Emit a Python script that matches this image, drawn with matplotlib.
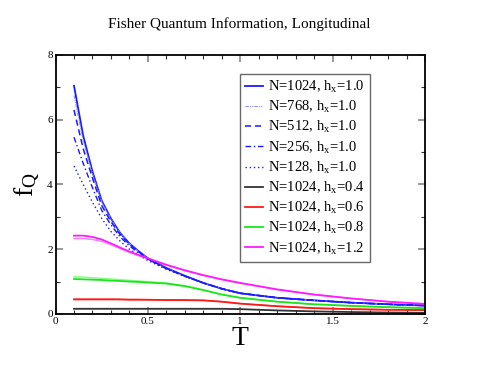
import numpy as np
import matplotlib
matplotlib.use("Agg")
import matplotlib.pyplot as plt
from matplotlib.ticker import MultipleLocator

plt.rcParams['font.family'] = ['Liberation Serif', 'DejaVu Serif']
plt.rcParams['mathtext.fontset'] = 'stix'

# temperature grid
T = [0.1, 0.15, 0.2, 0.25, 0.3, 0.35, 0.4, 0.45, 0.5, 0.6, 0.7, 0.8, 0.9, 1.0,
     1.2, 1.4, 1.6, 1.8, 2.0]

# h_x = 1.0, several sizes
fq_1024_h10 = [7.05, 5.5, 4.4, 3.5, 2.95, 2.5, 2.18, 1.94, 1.72, 1.42, 1.18, 0.96,
               0.78, 0.64, 0.5, 0.42, 0.35, 0.3, 0.26]
fq_768_h10 = [6.75, 5.35, 4.33, 3.47, 2.93, 2.49, 2.17, 1.93, 1.71, 1.41, 1.17, 0.96,
              0.78, 0.64, 0.5, 0.42, 0.35, 0.3, 0.26]
fq_512_h10 = [6.3, 5.1, 4.2, 3.35, 2.85, 2.45, 2.15, 1.92, 1.7, 1.41, 1.17, 0.96,
              0.78, 0.64, 0.5, 0.42, 0.35, 0.3, 0.26]
fq_256_h10 = [5.46, 4.65, 3.9, 3.2, 2.75, 2.38, 2.1, 1.89, 1.69, 1.4, 1.17, 0.96,
              0.78, 0.64, 0.5, 0.42, 0.35, 0.3, 0.26]
fq_128_h10 = [4.57, 4.0, 3.45, 2.95, 2.55, 2.25, 2.0, 1.83, 1.65, 1.38, 1.16, 0.95,
              0.78, 0.64, 0.5, 0.42, 0.35, 0.3, 0.26]

# N = 1024, other fields
fq_1024_h04 = [0.16, 0.16, 0.16, 0.16, 0.16, 0.16, 0.16, 0.16, 0.16, 0.16, 0.16, 0.16,
               0.16, 0.15, 0.11, 0.08, 0.06, 0.045, 0.035]
fq_1024_h06 = [0.45, 0.45, 0.45, 0.45, 0.45, 0.45, 0.44, 0.44, 0.44, 0.43, 0.43, 0.42,
               0.38, 0.32, 0.24, 0.18, 0.15, 0.13, 0.12]
fq_1024_h08 = [1.08, 1.07, 1.06, 1.05, 1.03, 1.02, 1.0, 0.99, 0.97, 0.94, 0.86, 0.74,
               0.6, 0.5, 0.38, 0.3, 0.25, 0.21, 0.18]
fq_1024_h12 = [2.42, 2.42, 2.38, 2.3, 2.18, 2.05, 1.93, 1.82, 1.72, 1.52, 1.35, 1.2,
               1.07, 0.96, 0.76, 0.6, 0.48, 0.38, 0.31]

# companion (smaller N) curves without legend entry
fq_512_h06 = [0.46, 0.46, 0.46, 0.46, 0.46, 0.45, 0.45, 0.45, 0.44, 0.44, 0.43, 0.42,
              0.38, 0.32, 0.24, 0.18, 0.15, 0.13, 0.12]
fq_512_h08 = [1.15, 1.14, 1.12, 1.1, 1.08, 1.06, 1.04, 1.02, 1.0, 0.96, 0.87, 0.74,
              0.6, 0.5, 0.38, 0.3, 0.25, 0.21, 0.18]
fq_512_h12 = [2.33, 2.33, 2.3, 2.24, 2.14, 2.02, 1.9, 1.8, 1.7, 1.51, 1.34, 1.19,
              1.06, 0.95, 0.75, 0.6, 0.48, 0.38, 0.31]

labels = ['N=1024, h$_\\mathregular{x}$=1.0', 'N=768, h$_\\mathregular{x}$=1.0',
          'N=512, h$_\\mathregular{x}$=1.0', 'N=256, h$_\\mathregular{x}$=1.0',
          'N=128, h$_\\mathregular{x}$=1.0', 'N=1024, h$_\\mathregular{x}$=0.4',
          'N=1024, h$_\\mathregular{x}$=0.6', 'N=1024, h$_\\mathregular{x}$=0.8',
          'N=1024, h$_\\mathregular{x}$=1.2']
xticks = [0, 0.5, 1, 1.5, 2]
xticklabels = ['0', '0.5', '1', '1.5', '2']
yticks = [0, 2, 4, 6, 8]

fig = plt.figure(figsize=(4.79, 3.70), dpi=100)
ax = fig.add_axes([0.1159, 0.1514, 0.7714, 0.70])

blue = '#1a1aff'
# companions first so main ones sit on top
ax.plot(T, fq_512_h06, color='#ff7070', lw=1.0)
ax.plot(T, fq_512_h08, color='#80ff80', lw=1.0)
ax.plot(T, fq_512_h12, color='#ff80ff', lw=1.0)

ax.plot(T, fq_1024_h10, color=blue, lw=1.3, label=labels[0])
ax.plot(T, fq_768_h10, color='#8c8cff', lw=0.8, ls=(0, (3, 1, 1, 1, 1, 1)), label=labels[1])
ax.plot(T, fq_512_h10, color=blue, lw=1.1, ls=(0, (4, 2.5)), label=labels[2])
ax.plot(T, fq_256_h10, color=blue, lw=1.0, ls=(0, (4, 2, 1, 2)), label=labels[3])
ax.plot(T, fq_128_h10, color=blue, lw=1.0, ls=(0, (1, 2)), label=labels[4])
ax.plot(T, fq_1024_h04, color='#333333', lw=1.3, label=labels[5])
ax.plot(T, fq_1024_h06, color='#ff1a1a', lw=1.3, label=labels[6])
ax.plot(T, fq_1024_h08, color='#1ae61a', lw=1.3, label=labels[7])
ax.plot(T, fq_1024_h12, color='#ff1aff', lw=1.3, label=labels[8])

ax.set_xticks(xticks)
ax.set_xticklabels(xticklabels)
ax.set_yticks(yticks)
ax.set_yticklabels([str(v) for v in yticks])
ax.xaxis.set_minor_locator(MultipleLocator(0.1))
ax.yaxis.set_minor_locator(MultipleLocator(1))
ax.set_xlim(0, 2)
ax.set_ylim(0, 8)
ax.tick_params(which='both', direction='in', top=True, right=True, labelsize=8, pad=2)
ax.tick_params(which='major', length=5, width=1.2, color='#888888')
ax.tick_params(which='minor', length=3, width=0.8, color='#333333')
for s in ax.spines.values():
    s.set_linewidth(1.3)

ax.set_xlabel('T', fontsize=20, labelpad=0)
ax.set_ylabel('f$_\\mathregular{Q}$', fontsize=20, labelpad=4)
fig.text(0.5, 0.935, 'Fisher Quantum Information, Longitudinal', ha='center',
         va='center', fontsize=11)

leg = ax.legend(loc='upper left', bbox_to_anchor=(0.499, 0.927), fontsize=10.5,
                frameon=True, fancybox=False, handlelength=1.2, handletextpad=0.4,
                labelspacing=0.28, borderpad=0.35, borderaxespad=0)
leg.get_frame().set_edgecolor('#444444')
leg.get_frame().set_linewidth(1.0)

fig.savefig('out.png', dpi=100)
